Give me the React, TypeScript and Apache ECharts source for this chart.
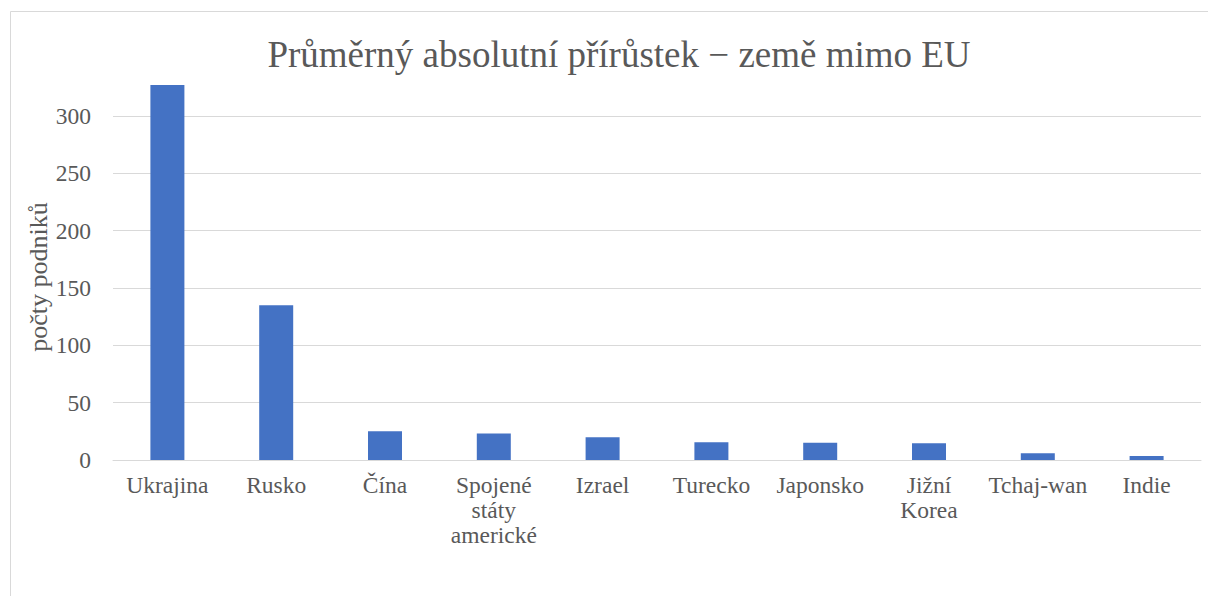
import React, { useEffect, useRef } from "react";
import * as echarts from "echarts";

const titleText = "Průměrný absolutní přírůstek − země mimo EU";
const yAxisTitle = "počty podniků";
const categories = [
  "Ukrajina",
  "Rusko",
  "Čína",
  "Spojené státy americké",
  "Izrael",
  "Turecko",
  "Japonsko",
  "Jižní Korea",
  "Tchaj-wan",
  "Indie",
];
const values = [327, 135, 25, 23.2, 19.8, 15.4, 15.1, 14.5, 5.8, 3.5];
const yMax = 350;
const yInterval = 50;

const FONT = "Times New Roman, Liberation Serif, DejaVu Serif, serif";
const TEXT = "#595959";
const GRID = "#d9d9d9";

export default function App() {
  const ref = useRef<HTMLDivElement>(null);
  useEffect(() => {
    document.body.style.margin = "0";
    const chart = echarts.init(ref.current!, null, { renderer: "svg" });
    const lineColors = [];
    for (let v = 0; v <= yMax; v += yInterval) lineColors.push(v === yMax ? "rgba(0,0,0,0)" : GRID);
    chart.setOption({
      animation: false,
      backgroundColor: "#ffffff",
      textStyle: { fontFamily: FONT },
      title: {
        text: titleText,
        left: 614,
        textAlign: "center",
        top: 31,
        textStyle: { fontFamily: FONT, fontSize: 37, fontWeight: "normal", color: TEXT },
      },
      grid: { left: 113, right: 7, top: 58.7, bottom: 136, containLabel: false },
      xAxis: {
        type: "category",
        data: categories,
        axisLine: { show: true, lineStyle: { color: GRID, width: 1 } },
        axisTick: { show: false },
        axisLabel: {
          interval: 0,
          margin: 12,
          fontFamily: FONT,
          fontSize: 23.5,
          lineHeight: 25,
          color: TEXT,
          formatter: (v: string) => v.split(" ").join("\n"),
        },
      },
      yAxis: {
        type: "value",
        min: 0,
        max: yMax,
        interval: yInterval,
        axisLine: { show: false },
        axisTick: { show: false },
        axisLabel: { showMaxLabel: false, margin: 22, fontFamily: FONT, fontSize: 23.5, color: TEXT },
        splitLine: { show: true, lineStyle: { color: lineColors, width: 1 } },
      },
      graphic: [
        {
          type: "rect",
          shape: { x: 10.5, y: 11.5, width: 1400, height: 800 },
          style: { fill: "none", stroke: GRID, lineWidth: 1 },
          silent: true,
        },
        {
          type: "text",
          x: 38,
          y: 277,
          rotation: Math.PI / 2,
          style: {
            text: yAxisTitle,
            fontFamily: FONT,
            fontSize: 26,
            fill: TEXT,
            textAlign: "center",
            textVerticalAlign: "middle",
          },
        },
      ],
      series: [
        {
          type: "bar",
          data: values,
          barWidth: 34,
          itemStyle: { color: "#4472c4" },
        },
      ],
    });
    return () => chart.dispose();
  }, []);
  return <div ref={ref} style={{ width: 1208, height: 596 }} />;
}
